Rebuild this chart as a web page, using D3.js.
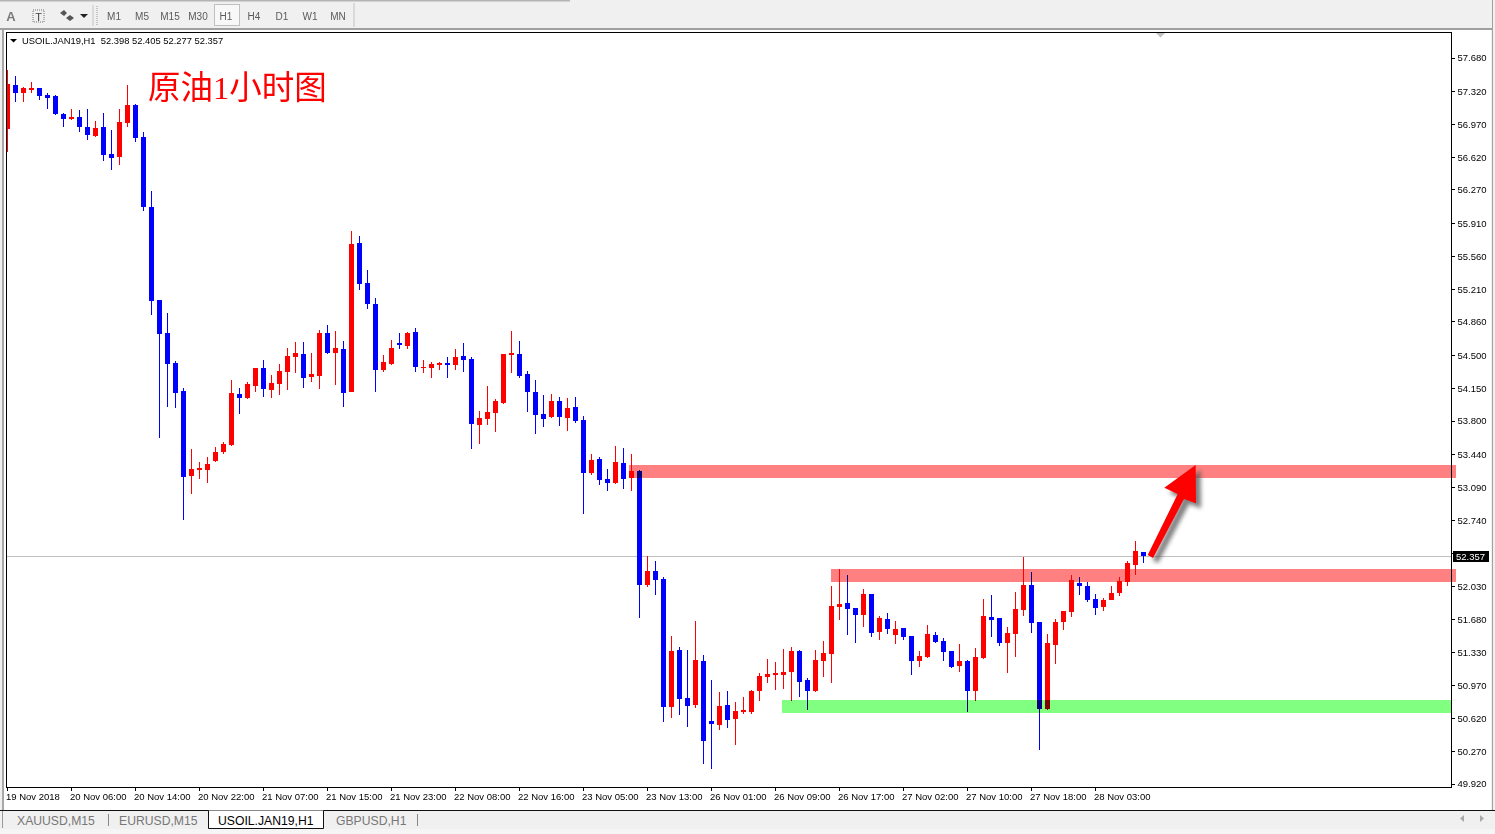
<!DOCTYPE html>
<html><head><meta charset="utf-8">
<script src="https://cdn.jsdelivr.net/npm/d3@7"></script>
<style>
html,body{margin:0;padding:0;background:#f0f0f0;overflow:hidden}
svg{display:block}
text{font-family:"Liberation Sans",Arial,sans-serif}
.axis text{font-size:9.5px;fill:#000}
.axis line{stroke:#000;shape-rendering:crispEdges}
.axis path{display:none}
.tb{font-size:10px;fill:#5a5a5a;text-anchor:middle}
.tab{font-size:12.2px;fill:#777}
</style></head><body>
<div id="chart"></div>
<script>
const opens=[56.921,57.392,57.306,57.338,57.359,57.285,57.274,57.082,57.028,57.050,56.943,56.846,56.943,56.654,56.622,56.985,57.178,56.836,56.088,55.094,54.741,54.420,54.121,53.212,53.277,53.277,53.373,53.469,53.544,54.089,54.046,54.174,54.367,54.132,54.196,54.324,54.484,54.516,54.271,54.281,54.741,54.527,54.570,54.110,55.703,55.275,55.051,54.345,54.410,54.634,54.602,54.752,54.367,54.367,54.399,54.420,54.399,54.495,54.463,53.758,53.822,53.886,53.993,54.506,54.516,54.303,54.110,53.875,53.843,54.014,53.832,53.950,53.811,53.245,53.394,53.180,53.138,53.352,53.191,53.266,52.048,52.197,52.112,50.744,51.353,50.840,50.765,51.235,50.594,50.551,50.765,50.615,50.690,50.690,50.915,51.064,51.086,51.086,51.118,51.342,51.032,50.915,51.235,51.310,51.812,51.855,51.802,51.727,51.951,51.545,51.684,51.513,51.588,51.502,51.235,51.278,51.513,51.449,51.342,51.182,51.235,50.915,51.267,51.705,51.695,51.428,51.524,51.780,52.048,51.652,50.722,51.406,51.652,51.759,52.069,52.037,51.898,51.812,51.887,51.962,52.080,52.261,52.398];
const highs=[57.552,57.488,57.370,57.424,57.359,57.306,57.285,57.092,57.135,57.124,57.135,57.007,57.092,56.911,57.135,57.392,57.188,56.889,56.259,55.094,54.955,54.442,54.153,53.501,53.362,53.416,53.522,53.576,54.239,54.153,54.217,54.367,54.452,54.292,54.410,54.581,54.645,54.645,54.527,54.773,54.826,54.762,54.655,55.831,55.778,55.414,55.115,54.506,54.666,54.741,54.752,54.794,54.452,54.431,54.431,54.484,54.570,54.634,54.484,53.907,54.174,54.035,54.516,54.762,54.655,54.335,54.239,54.078,54.089,54.057,54.046,54.057,53.854,53.448,53.416,53.287,53.533,53.512,53.448,53.277,52.358,52.304,52.133,51.502,51.385,51.353,51.663,51.299,51.032,50.904,50.915,50.797,50.851,50.925,51.107,51.257,51.225,51.364,51.385,51.353,51.054,51.353,51.449,52.037,52.219,52.154,51.802,52.005,51.951,51.716,51.748,51.663,51.588,51.502,51.342,51.620,51.545,51.481,51.342,51.417,51.246,51.374,51.898,51.941,51.695,51.599,51.973,52.347,52.186,51.652,51.524,51.684,51.770,52.154,52.133,52.080,51.951,51.909,52.037,52.133,52.304,52.518,52.405];
const lows=[56.675,57.210,57.210,57.306,57.231,57.135,57.071,56.943,57.017,56.889,56.804,56.836,56.579,56.483,56.537,56.943,56.782,56.045,54.933,53.619,53.950,53.939,52.742,53.020,53.180,53.138,53.362,53.448,53.533,53.875,54.035,54.110,54.057,54.046,54.078,54.132,54.313,54.153,54.217,54.142,54.516,54.185,53.950,54.110,55.200,54.997,54.110,54.324,54.399,54.570,54.570,54.324,54.313,54.260,54.345,54.260,54.345,54.324,53.501,53.555,53.758,53.683,53.982,54.313,54.260,53.897,53.661,53.736,53.832,53.747,53.693,53.779,52.806,53.223,53.116,53.052,53.127,53.074,53.052,51.695,52.026,51.941,50.583,50.626,50.658,50.530,50.733,50.135,50.081,50.498,50.519,50.338,50.669,50.669,50.808,51.000,50.925,50.936,50.808,50.851,50.712,50.904,51.064,51.000,51.674,51.513,51.428,51.599,51.492,51.460,51.524,51.417,51.460,51.086,51.171,51.267,51.428,51.235,51.160,51.118,50.690,50.808,51.257,51.492,51.396,51.107,51.278,51.716,51.535,50.284,50.712,51.203,51.567,51.705,51.941,51.866,51.727,51.770,51.887,51.930,52.037,52.154,52.277];
const closes=[57.402,57.306,57.359,57.359,57.274,57.253,57.082,57.028,57.050,56.943,56.857,56.932,56.643,56.611,56.996,57.178,56.825,56.088,55.083,54.730,54.410,54.100,53.202,53.287,53.298,53.341,53.469,53.555,54.100,54.046,54.196,54.367,54.142,54.207,54.335,54.495,54.527,54.260,54.303,54.741,54.527,54.581,54.100,55.692,55.265,55.051,54.345,54.431,54.581,54.613,54.741,54.378,54.378,54.410,54.420,54.399,54.484,54.452,53.768,53.832,53.897,54.014,54.516,54.527,54.281,54.110,53.865,53.822,54.014,53.843,53.939,53.800,53.245,53.384,53.170,53.138,53.362,53.180,53.266,52.048,52.197,52.101,50.744,51.342,50.829,50.754,51.246,50.380,50.562,50.754,50.605,50.701,50.712,50.915,51.075,51.096,51.107,51.118,51.342,51.011,50.915,51.246,51.321,51.823,51.844,51.791,51.727,51.951,51.535,51.695,51.577,51.577,51.492,51.235,51.289,51.524,51.438,51.331,51.171,51.235,50.915,51.278,51.716,51.674,51.428,51.535,51.791,52.048,51.641,50.722,51.428,51.652,51.770,52.101,52.037,51.887,51.802,51.887,51.962,52.090,52.283,52.411,52.357];

const priceTicks=[57.68,57.32,56.97,56.62,56.27,55.91,55.56,55.21,54.86,54.5,54.15,53.8,53.44,53.09,52.74,52.38,52.03,51.68,51.33,50.97,50.62,50.27,49.92];
const timeLabels=["19 Nov 2018","20 Nov 06:00","20 Nov 14:00","20 Nov 22:00","21 Nov 07:00","21 Nov 15:00","21 Nov 23:00","22 Nov 08:00","22 Nov 16:00","23 Nov 05:00","23 Nov 13:00","26 Nov 01:00","26 Nov 09:00","26 Nov 17:00","27 Nov 02:00","27 Nov 10:00","27 Nov 18:00","28 Nov 03:00"];
const timeTickIndex=timeLabels.map((_,k)=>k*8);
const zones=[
 {from:77.7,top:53.330,bottom:53.191,fill:"#ff8080",toAxis:false},
 {from:102.9,top:52.219,bottom:52.080,fill:"#ff8080",toAxis:false},
 {from:96.8,top:50.818,bottom:50.679,fill:"#80ff80",toAxis:true}
];
const lastPrice=52.357;
const timeframes=["M1","M5","M15","M30","H1","H4","D1","W1","MN"];
const tabs=["XAUUSD,M15","EURUSD,M15","USOIL.JAN19,H1","GBPUSD,H1"];

const W=1495,H=834,L=6,R=1451,T=32,B=787;
const svg=d3.select("#chart").append("svg").attr("width",W).attr("height",H);
const x=d3.scaleLinear().domain([0,142]).range([7.5,1143.5]);
const y=d3.scaleLinear().domain([57.68,49.92]).range([58,784]);
const defs=svg.append("defs");
defs.append("clipPath").attr("id","plot").append("rect").attr("x",L).attr("y",T).attr("width",R-L).attr("height",B-T);
const f=defs.append("filter").attr("id","shadow").attr("x","-30%").attr("y","-30%").attr("width","170%").attr("height","170%");
f.append("feGaussianBlur").attr("stdDeviation",2.2);

// window chrome
svg.append("rect").attr("width",W).attr("height",28).attr("fill","#f0f0f0");
svg.append("rect").attr("x",0).attr("y",0).attr("width",570).attr("height",1.5).attr("fill","#b4b4b4");
svg.append("rect").attr("x",0).attr("y",28).attr("width",W-3).attr("height",2).attr("fill","#a0a0a0");
svg.append("rect").attr("x",2).attr("y",30).attr("width",2).attr("height",780).attr("fill","#a8a8a8");
svg.append("rect").attr("x",W-3).attr("y",0).attr("width",1).attr("height",810).attr("fill","#a0a0a0");
svg.append("rect").attr("x",4).attr("y",30).attr("width",1487).attr("height",780).attr("fill","#fff");

// toolbar
svg.append("text").attr("x",11).attr("y",21).attr("text-anchor","middle").style("font-size","13px").style("font-weight","bold").attr("fill","#7a7a7a").text("A");
svg.append("rect").attr("x",33).attr("y",10).attr("width",11).attr("height",12).attr("fill","none").attr("stroke","#777").attr("stroke-dasharray","1 1");
svg.append("text").attr("x",38.5).attr("y",20.5).attr("text-anchor","middle").style("font-size","11px").attr("fill","#444").text("T");
svg.append("path").attr("d","M60 13l4-3 3 3-3 3zM66 18l4-3 4 3-4 3z").attr("fill","#555");
svg.append("path").attr("d","M80 14h8l-4 4z").attr("fill","#222");
svg.append("line").attr("x1",93).attr("x2",93).attr("y1",5).attr("y2",26).attr("stroke","#c4c4c4");
svg.append("line").attr("x1",97).attr("x2",97).attr("y1",6).attr("y2",25).attr("stroke","#999").attr("stroke-dasharray","1 1");
svg.append("line").attr("x1",354).attr("x2",354).attr("y1",3).attr("y2",27).attr("stroke","#c4c4c4");
const tfX=d3.scalePoint().domain(timeframes).range([114,338]);
svg.append("rect").attr("x",214.5).attr("y",4.5).attr("width",25).attr("height",21).attr("fill","#f8f8f8").attr("stroke","#c0c0c0");
svg.selectAll("text.tb").data(timeframes).join("text").attr("class","tb").attr("x",d=>tfX(d)).attr("y",20).text(d=>d);

// candles
const candles=opens.map((o,i)=>({i,o,h:highs[i],l:lows[i],c:closes[i]}));
const plot=svg.append("g").attr("clip-path","url(#plot)");
plot.append("line").attr("x1",L).attr("x2",R).attr("y1",Math.floor(y(lastPrice))+.5).attr("y2",Math.floor(y(lastPrice))+.5).attr("stroke","#c0c0c0");
const col=d=>d.c>=d.o?"#ff0000":"#0000ff";
plot.selectAll("rect.wick").data(candles).join("rect").attr("class","wick")
 .attr("x",d=>x(d.i)-.5).attr("width",1).attr("y",d=>Math.round(y(d.h))).attr("height",d=>Math.round(y(d.l))-Math.round(y(d.h)))
 .attr("fill",col);
plot.selectAll("rect.body").data(candles).join("rect").attr("class","body")
 .attr("x",d=>x(d.i)-2.5).attr("width",5).attr("y",d=>Math.round(y(Math.max(d.o,d.c))))
 .attr("height",d=>Math.max(1,Math.round(y(Math.min(d.o,d.c)))-Math.round(y(Math.max(d.o,d.c)))))
 .attr("fill",col);

// frame
svg.append("rect").attr("x",L+.5).attr("y",T+.5).attr("width",R-L).attr("height",B-T).attr("fill","none").attr("stroke","#000").attr("shape-rendering","crispEdges");

// zones (multiply over candles)
svg.selectAll("rect.zone").data(zones).join("rect").attr("class","zone")
 .attr("x",d=>Math.round(x(d.from))).attr("width",d=>(d.toAxis?R:1456)-Math.round(x(d.from)))
 .attr("y",d=>Math.round(y(d.top))).attr("height",d=>Math.round(y(d.bottom))-Math.round(y(d.top)))
 .attr("fill",d=>d.fill).style("mix-blend-mode","multiply");

// axes
const yAxis=d3.axisRight(y).tickValues(priceTicks).tickFormat(d3.format(".3f")).tickSize(3).tickPadding(3).offset(0);
const ya=svg.append("g").attr("class","axis").attr("transform",`translate(${R+.5},0)`).call(yAxis);
ya.selectAll("text").attr("dy","0.36em");
const xAxis=d3.axisBottom(x).tickValues(timeTickIndex).tickFormat((d,k)=>timeLabels[k]).tickSize(3).tickPadding(2).offset(0);
const xa=svg.append("g").attr("class","axis").attr("transform",`translate(0,${B+.5})`).call(xAxis);
xa.selectAll("text").attr("text-anchor","start").attr("dx","-1.5").attr("dy","0.75em");

// current price label
svg.append("rect").attr("x",1453).attr("y",Math.round(y(lastPrice))-5).attr("width",36).attr("height",11).attr("fill","#000");
svg.append("text").attr("x",1456).attr("y",Math.round(y(lastPrice))+3.5).style("font-size","9.5px").attr("fill","#fff").text(d3.format(".3f")(lastPrice));

// top marker & legend
svg.append("path").attr("d","M1156 33h9l-4.5 4.5z").attr("fill","#c0c0c0");
svg.append("path").attr("d","M10 39h7l-3.5 3.5z").attr("fill","#000");
svg.append("text").attr("x",22).attr("y",44).style("font-size","9.4px").attr("fill","#000").attr("xml:space","preserve")
 .text("USOIL.JAN19,H1  "+[opens[142],highs[142],lows[142],closes[142]].map(d3.format(".3f")).join(" "));

// title
svg.append("text").attr("x",148).attr("y",98.5).attr("fill","#ff0000")
 .style("font-family",'"Liberation Serif","Noto Sans CJK SC"').style("font-size","32.5px").text("原油1小时图");

// arrow
const arrow="M1147.7 555L1177.7 494L1164.3 487.7L1195.7 465L1196 503.3L1184 499L1153 558Z";
svg.append("path").attr("d",arrow).attr("transform","translate(5,5)").attr("fill","#555").attr("opacity",.75).attr("filter","url(#shadow)");
svg.append("path").attr("d",arrow).attr("fill","#ff0000");

// bottom tabs
svg.append("rect").attr("x",0).attr("y",810).attr("width",W).attr("height",1.5).attr("fill","#111");
svg.append("rect").attr("x",0).attr("y",811).attr("width",W).attr("height",23).attr("fill","#f0f0f0");
svg.append("rect").attr("x",0).attr("y",829).attr("width",W).attr("height",5).attr("fill","#f5f5f5");
svg.append("rect").attr("x",2).attr("y",811).attr("width",1).attr("height",17).attr("fill","#999");
svg.append("path").attr("d","M208.5 810.5V828.5H323.5V810.5").attr("fill","#fff").attr("stroke","#111");
const tabX=[17,119,218,336];
svg.selectAll("text.tab").data(tabs).join("text").attr("class","tab").attr("x",(d,k)=>tabX[k]).attr("y",825)
 .style("fill",(d,k)=>k===2?"#000":"#777").text(d=>d);
[108.5,417.5].forEach(v=>svg.append("line").attr("x1",v).attr("x2",v).attr("y1",814).attr("y2",826).attr("stroke","#888"));
svg.append("path").attr("d","M1464 815v7l-4-3.5zM1480 815v7l4-3.5z").attr("fill","#a8a8a8");
</script>
</body></html>
